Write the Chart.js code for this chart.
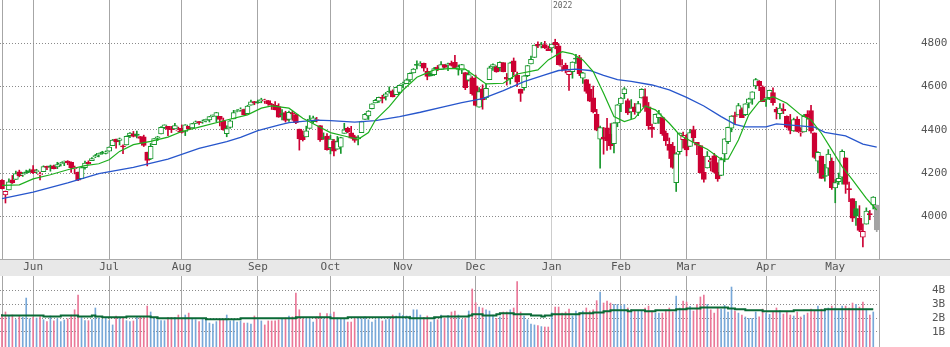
<!DOCTYPE html>
<html>
<head>
<meta charset="utf-8">
<script src="https://cdn.jsdelivr.net/npm/chart.js@4.4.1/dist/chart.umd.min.js"></script>
<style>
  html, body { margin: 0; padding: 0; background: #fff; }
  #wrap { position: relative; width: 950px; height: 347px; overflow: hidden; }
  #band { position: absolute; left: 0; top: 259px; width: 950px; height: 17px; background: #e8e8e8; border-top: 1px solid #aaa; box-sizing: border-box; }
  canvas { position: absolute; left: 0; }
  #price { top: 0; }
  #volume { top: 276px; }
  #year { position: absolute; left: 553px; top: 2px; font: 8px/8px "DejaVu Sans Mono", monospace; color: #666; }
</style>
</head>
<body>
<div id="wrap">
  <div id="band"></div>
  <canvas id="price" width="950" height="276"></canvas>
  <canvas id="volume" width="950" height="71"></canvas>
  <div id="year"></div>
</div>
<script>
// daily bars, 2021-05-18 .. 2022-05-18
const dates = [
  "2021-05-18","2021-05-19","2021-05-20","2021-05-21","2021-05-24","2021-05-25","2021-05-26","2021-05-27","2021-05-28",
  "2021-06-01","2021-06-02","2021-06-03","2021-06-04","2021-06-07","2021-06-08","2021-06-09","2021-06-10","2021-06-11","2021-06-14","2021-06-15","2021-06-16","2021-06-17","2021-06-18","2021-06-21","2021-06-22","2021-06-23","2021-06-24","2021-06-25","2021-06-28","2021-06-29","2021-06-30",
  "2021-07-01","2021-07-02","2021-07-06","2021-07-07","2021-07-08","2021-07-09","2021-07-12","2021-07-13","2021-07-14","2021-07-15","2021-07-16","2021-07-19","2021-07-20","2021-07-21","2021-07-22","2021-07-23","2021-07-26","2021-07-27","2021-07-28","2021-07-29","2021-07-30",
  "2021-08-02","2021-08-03","2021-08-04","2021-08-05","2021-08-06","2021-08-09","2021-08-10","2021-08-11","2021-08-12","2021-08-13","2021-08-16","2021-08-17","2021-08-18","2021-08-19","2021-08-20","2021-08-23","2021-08-24","2021-08-25","2021-08-26","2021-08-27","2021-08-30","2021-08-31",
  "2021-09-01","2021-09-02","2021-09-03","2021-09-07","2021-09-08","2021-09-09","2021-09-10","2021-09-13","2021-09-14","2021-09-15","2021-09-16","2021-09-17","2021-09-20","2021-09-21","2021-09-22","2021-09-23","2021-09-24","2021-09-27","2021-09-28","2021-09-29","2021-09-30",
  "2021-10-01","2021-10-04","2021-10-05","2021-10-06","2021-10-07","2021-10-08","2021-10-11","2021-10-12","2021-10-13","2021-10-14","2021-10-15","2021-10-18","2021-10-19","2021-10-20","2021-10-21","2021-10-22","2021-10-25","2021-10-26","2021-10-27","2021-10-28","2021-10-29",
  "2021-11-01","2021-11-02","2021-11-03","2021-11-04","2021-11-05","2021-11-08","2021-11-09","2021-11-10","2021-11-11","2021-11-12","2021-11-15","2021-11-16","2021-11-17","2021-11-18","2021-11-19","2021-11-22","2021-11-23","2021-11-24","2021-11-26","2021-11-29","2021-11-30",
  "2021-12-01","2021-12-02","2021-12-03","2021-12-06","2021-12-07","2021-12-08","2021-12-09","2021-12-10","2021-12-13","2021-12-14","2021-12-15","2021-12-16","2021-12-17","2021-12-20","2021-12-21","2021-12-22","2021-12-23","2021-12-27","2021-12-28","2021-12-29","2021-12-30","2021-12-31",
  "2022-01-03","2022-01-04","2022-01-05","2022-01-06","2022-01-07","2022-01-10","2022-01-11","2022-01-12","2022-01-13","2022-01-14","2022-01-18","2022-01-19","2022-01-20","2022-01-21","2022-01-24","2022-01-25","2022-01-26","2022-01-27","2022-01-28","2022-01-31",
  "2022-02-01","2022-02-02","2022-02-03","2022-02-04","2022-02-07","2022-02-08","2022-02-09","2022-02-10","2022-02-11","2022-02-14","2022-02-15","2022-02-16","2022-02-17","2022-02-18","2022-02-22","2022-02-23","2022-02-24","2022-02-25","2022-02-28",
  "2022-03-01","2022-03-02","2022-03-03","2022-03-04","2022-03-07","2022-03-08","2022-03-09","2022-03-10","2022-03-11","2022-03-14","2022-03-15","2022-03-16","2022-03-17","2022-03-18","2022-03-21","2022-03-22","2022-03-23","2022-03-24","2022-03-25","2022-03-28","2022-03-29","2022-03-30","2022-03-31",
  "2022-04-01","2022-04-04","2022-04-05","2022-04-06","2022-04-07","2022-04-08","2022-04-11","2022-04-12","2022-04-13","2022-04-14","2022-04-18","2022-04-19","2022-04-20","2022-04-21","2022-04-22","2022-04-25","2022-04-26","2022-04-27","2022-04-28","2022-04-29",
  "2022-05-02","2022-05-03","2022-05-04","2022-05-05","2022-05-06","2022-05-09","2022-05-10","2022-05-11","2022-05-12","2022-05-13","2022-05-16","2022-05-17","2022-05-18"
];

const opens = [
  4165.9,4098.5,4122.0,4168.6,4170.2,4205.9,4191.6,4201.9,4210.8,
  4216.5,4206.8,4191.4,4206.1,4229.3,4233.8,4233.0,4228.6,4242.9,4248.3,4255.3,4248.9,4220.4,4204.8,4173.4,4224.6,4249.3,4257.0,4274.5,4284.9,4293.2,4290.7,
  4300.7,4326.6,4356.5,4351.0,4321.1,4329.4,4372.4,4381.1,4380.1,4369.0,4367.4,4296.4,4265.1,4331.1,4361.3,4381.2,4409.6,4416.4,4403.0,4403.6,4395.1,
  4406.9,4392.7,4416.0,4408.9,4429.1,4437.8,4435.8,4442.2,4446.1,4464.8,4461.7,4462.1,4440.9,4382.4,4410.6,4450.3,4484.4,4490.5,4493.8,4474.1,4513.8,4529.8,
  4528.8,4534.5,4532.4,4535.4,4518.1,4513.0,4506.9,4474.8,4479.3,4447.5,4477.1,4469.7,4403.0,4374.5,4367.4,4406.8,4438.0,4442.1,4419.5,4362.4,4370.7,
  4317.2,4348.8,4309.9,4319.6,4383.7,4406.5,4385.4,4368.3,4358.0,4386.8,4447.7,4463.7,4497.3,4524.4,4532.2,4546.1,4553.7,4578.7,4580.2,4562.8,4572.9,
  4610.6,4613.3,4630.7,4662.9,4699.3,4701.5,4707.3,4670.3,4659.4,4655.2,4689.3,4679.4,4701.5,4700.7,4708.4,4712.0,4678.5,4675.8,4664.6,4628.8,4640.3,
  4602.8,4504.7,4589.5,4548.4,4632.0,4690.9,4691.0,4687.6,4710.3,4643.0,4636.5,4719.1,4652.5,4587.9,4595.0,4650.4,4704.0,4734.0,4795.5,4788.6,4794.2,4775.2,
  4778.1,4804.5,4788.0,4693.4,4697.7,4655.3,4669.1,4728.6,4733.6,4638.0,4632.2,4588.0,4547.4,4471.4,4356.3,4366.6,4408.4,4380.6,4336.2,4431.8,
  4519.6,4566.4,4535.4,4482.8,4505.8,4480.0,4547.0,4553.2,4506.3,4412.6,4429.3,4455.8,4456.1,4384.6,4332.7,4324.9,4155.8,4298.4,4354.2,
  4363.1,4322.6,4401.3,4342.1,4327.0,4202.7,4223.1,4252.6,4279.5,4202.8,4188.8,4288.1,4345.1,4407.3,4462.4,4469.1,4493.1,4470.0,4522.9,4541.1,4602.9,4624.2,4599.0,
  4540.3,4548.0,4572.5,4494.2,4474.7,4494.2,4462.6,4437.6,4394.3,4449.1,4385.6,4390.6,4472.3,4489.2,4385.8,4255.3,4278.1,4186.5,4222.6,4253.8,
  4130.6,4159.8,4181.2,4270.4,4128.2,4081.3,4035.2,3990.1,3904.0,3963.9,4013.0,4052.0,4052.0
];

const highs = [
  4169.2,4116.9,4172.8,4188.7,4209.5,4213.4,4202.6,4213.4,4218.4,
  4234.1,4217.4,4204.4,4233.5,4232.3,4236.7,4237.1,4249.7,4248.4,4255.6,4257.2,4251.9,4232.3,4204.8,4226.2,4255.8,4256.6,4271.3,4286.1,4292.1,4300.5,4302.4,
  4320.7,4355.4,4356.5,4361.9,4330.9,4371.6,4386.7,4392.4,4393.7,4369.0,4375.1,4296.4,4336.8,4359.7,4369.9,4415.2,4422.7,4416.4,4415.5,4430.0,4412.3,
  4422.2,4423.8,4416.2,4429.8,4440.8,4439.4,4445.2,4449.4,4461.8,4468.4,4480.3,4462.1,4454.3,4418.6,4444.4,4489.9,4492.8,4501.7,4495.9,4513.3,4537.4,4531.4,
  4537.1,4545.9,4541.5,4535.4,4521.8,4529.9,4520.5,4493.0,4485.7,4486.9,4485.9,4471.5,4403.0,4394.9,4416.8,4465.4,4463.1,4457.3,4419.5,4385.6,4382.6,
  4375.2,4355.5,4369.2,4365.6,4430.0,4412.0,4415.9,4374.9,4372.9,4439.7,4475.8,4488.8,4520.4,4540.9,4551.4,4559.7,4572.6,4598.5,4584.6,4597.6,4608.1,
  4620.3,4635.2,4663.5,4683.0,4718.5,4714.9,4708.5,4684.9,4664.6,4688.5,4697.4,4715.0,4701.5,4708.8,4717.8,4743.8,4699.4,4702.9,4664.6,4673.0,4646.0,
  4652.9,4595.5,4608.0,4612.6,4694.0,4705.1,4695.3,4713.6,4710.3,4660.5,4712.6,4732.0,4666.7,4587.9,4651.1,4697.7,4740.7,4791.5,4807.0,4804.1,4808.9,4786.8,
  4796.6,4818.6,4797.7,4725.0,4708.0,4673.0,4714.1,4748.8,4744.1,4665.1,4632.2,4611.6,4602.1,4494.5,4417.4,4411.0,4453.2,4428.7,4432.7,4516.9,
  4550.5,4595.3,4542.9,4539.7,4521.9,4531.3,4590.0,4588.9,4526.3,4426.2,4472.8,4489.6,4456.1,4394.6,4362.1,4341.5,4294.7,4385.3,4388.8,
  4378.5,4401.5,4416.8,4342.1,4327.0,4276.9,4299.4,4268.3,4291.0,4247.6,4271.1,4358.9,4412.7,4465.4,4481.8,4522.0,4501.1,4520.6,4546.0,4575.7,4637.3,4627.8,4603.1,
  4548.7,4583.5,4593.5,4503.9,4521.2,4520.4,4464.4,4471.0,4453.9,4460.5,4410.3,4471.0,4488.3,4512.9,4385.8,4299.0,4278.1,4240.7,4308.5,4269.7,
  4169.8,4200.1,4307.7,4270.4,4157.7,4081.3,4068.8,4049.1,3964.8,4038.9,4027.0,4090.7,4052.0
];

const lows = [
  4126.0,4061.4,4122.0,4151.7,4170.2,4182.5,4184.1,4197.8,4203.6,
  4197.6,4198.3,4167.9,4206.1,4215.7,4208.4,4218.7,4220.3,4232.3,4234.1,4238.4,4202.5,4196.1,4164.4,4173.4,4217.3,4241.4,4257.0,4271.2,4274.7,4287.0,4288.0,
  4300.7,4326.6,4314.4,4329.8,4289.4,4329.4,4364.0,4366.9,4362.4,4340.7,4322.5,4233.1,4262.1,4331.1,4350.1,4381.2,4405.5,4372.5,4387.0,4403.6,4389.7,
  4384.8,4373.0,4400.2,4408.9,4429.1,4424.7,4430.0,4436.4,4436.0,4460.8,4437.7,4417.8,4397.6,4367.7,4406.8,4450.3,4482.3,4485.7,4469.0,4474.1,4513.8,4515.8,
  4522.0,4524.7,4521.9,4513.0,4494.0,4492.1,4457.7,4445.7,4435.5,4438.4,4443.8,4427.8,4305.9,4348.0,4367.4,4406.8,4430.3,4436.2,4346.3,4355.1,4306.2,
  4288.5,4278.9,4309.9,4290.5,4383.7,4386.2,4360.6,4342.1,4329.9,4386.8,4447.7,4447.5,4496.4,4524.4,4526.9,4524.0,4537.4,4569.2,4551.7,4562.8,4567.6,
  4595.1,4613.3,4621.2,4662.6,4681.3,4694.4,4670.9,4630.9,4648.3,4650.8,4672.9,4679.4,4684.4,4672.8,4694.2,4682.2,4652.7,4659.9,4585.4,4625.3,4560.0,
  4510.3,4504.7,4495.1,4540.5,4632.0,4674.5,4666.0,4670.6,4667.6,4606.5,4611.2,4651.9,4600.2,4531.1,4583.2,4645.5,4704.0,4734.0,4780.0,4778.1,4775.3,4765.8,
  4758.2,4774.3,4699.4,4671.3,4662.7,4582.2,4638.3,4706.7,4650.3,4614.8,4568.7,4530.2,4478.0,4395.3,4222.6,4287.1,4304.8,4309.5,4292.5,4414.0,
  4483.5,4544.3,4470.4,4451.5,4471.5,4465.4,4547.0,4484.3,4401.4,4364.8,4429.3,4429.7,4373.8,4327.2,4267.1,4221.5,4114.7,4286.8,4315.1,
  4279.5,4322.6,4345.6,4285.0,4199.9,4157.9,4223.1,4209.8,4200.5,4161.7,4187.9,4252.0,4335.7,4390.6,4424.3,4469.1,4455.8,4465.2,4501.1,4517.7,4589.7,4581.3,4530.4,
  4507.6,4539.2,4514.2,4450.0,4450.3,4474.6,4408.4,4381.3,4392.7,4390.8,4370.3,4390.6,4448.8,4384.5,4267.6,4200.8,4175.0,4162.9,4188.6,4124.3,
  4062.5,4147.1,4148.9,4106.0,4067.9,3975.5,3958.2,3928.8,3858.9,3963.9,3984.0,4033.9,3929.0
];

const closes = [
  4127.8,4115.7,4159.1,4155.9,4197.1,4188.1,4196.0,4200.9,4204.1,
  4202.0,4208.1,4192.9,4229.9,4226.5,4227.3,4219.6,4239.2,4247.4,4255.2,4246.6,4223.7,4221.9,4166.5,4224.8,4246.4,4241.8,4266.5,4280.7,4290.6,4291.8,4297.5,
  4319.9,4352.3,4343.5,4358.1,4320.8,4369.6,4384.6,4369.2,4374.3,4360.0,4327.2,4258.5,4323.1,4358.7,4367.5,4411.8,4422.3,4401.5,4400.6,4419.2,4395.3,
  4387.2,4423.2,4402.7,4429.1,4436.5,4432.4,4436.8,4447.7,4460.8,4468.0,4479.7,4448.1,4400.3,4405.8,4441.7,4479.5,4486.2,4496.2,4470.0,4509.4,4528.8,4522.7,
  4524.1,4537.0,4535.4,4520.0,4514.1,4493.3,4458.6,4468.7,4443.1,4480.7,4473.8,4433.0,4357.7,4354.2,4395.6,4449.0,4455.5,4443.1,4352.6,4359.5,4307.5,
  4357.0,4300.5,4345.7,4363.6,4399.8,4391.3,4361.2,4350.7,4363.8,4438.3,4471.4,4486.5,4519.6,4536.2,4549.8,4544.9,4566.5,4574.8,4551.7,4596.4,4605.4,
  4613.7,4630.7,4660.6,4680.1,4697.5,4701.7,4685.3,4646.7,4649.3,4682.9,4682.8,4700.9,4688.7,4704.5,4698.0,4682.9,4690.7,4701.5,4594.6,4655.3,4567.0,
  4513.0,4577.1,4538.4,4591.7,4686.8,4701.2,4667.5,4712.0,4669.0,4634.1,4709.9,4668.7,4620.6,4568.0,4649.2,4696.6,4725.8,4791.2,4786.4,4793.1,4778.7,4766.2,
  4796.6,4793.5,4700.6,4696.1,4677.0,4670.3,4713.1,4726.4,4659.0,4662.9,4577.1,4532.8,4482.7,4397.9,4410.1,4356.5,4349.9,4326.5,4431.9,4515.6,
  4546.5,4589.4,4477.4,4500.5,4483.9,4521.5,4587.2,4504.1,4418.6,4401.7,4471.1,4475.0,4380.3,4348.9,4304.8,4225.5,4288.7,4384.7,4373.9,
  4306.3,4386.5,4363.5,4328.9,4201.1,4170.7,4277.9,4259.5,4204.3,4173.1,4262.5,4357.9,4411.7,4463.1,4461.2,4511.6,4456.2,4520.2,4543.1,4575.5,4631.6,4602.5,4530.4,
  4545.9,4582.6,4525.1,4481.2,4500.2,4488.3,4412.5,4397.5,4446.6,4392.6,4391.7,4462.2,4459.5,4393.7,4271.8,4296.1,4175.2,4184.0,4287.5,4131.9,
  4155.4,4175.5,4300.2,4146.9,4123.3,3991.2,4001.1,3935.2,3930.1,4023.9,4008.0,4088.9,3937.0
];

// volume in billions (last bar still trading: no volume yet)
const volumes = [
  2.27,2.45,2.16,2.23,1.89,2.16,2.06,3.46,1.96,
  2.08,2.01,2.11,1.89,1.75,2.16,1.80,1.96,1.75,1.87,1.96,2.23,2.61,3.68,2.04,1.82,1.82,1.89,2.74,2.01,1.92,2.01,
  1.82,1.51,2.16,2.01,2.06,1.82,1.75,1.80,2.06,2.11,2.06,2.88,2.45,2.06,1.89,1.82,1.82,2.06,2.06,2.06,2.23,
  2.00,2.23,2.37,1.96,1.89,1.75,1.96,1.89,1.65,1.58,1.75,1.94,1.94,2.23,1.80,1.84,1.72,1.80,1.65,1.65,1.58,2.16,
  1.90,1.80,1.51,1.80,1.80,1.80,1.87,1.96,2.01,2.16,2.10,3.83,2.61,1.96,1.96,1.96,1.72,2.09,2.37,1.96,2.33,
  2.30,2.45,2.01,1.96,1.96,1.72,1.72,1.96,2.01,1.96,2.09,1.89,1.72,1.89,2.01,1.80,1.89,1.96,2.23,2.16,2.37,
  2.20,2.16,2.16,2.61,2.61,2.23,2.06,2.16,1.72,1.89,1.89,2.23,2.00,2.20,2.45,2.52,2.23,1.89,1.99,2.52,4.12,
  3.12,2.81,2.74,2.61,2.52,2.23,1.99,2.09,2.45,2.45,2.61,2.74,4.65,2.45,2.16,1.89,1.58,1.51,1.46,1.39,1.36,1.36,
  2.40,2.81,2.81,2.37,2.45,2.66,2.16,2.52,2.37,2.52,2.74,2.52,2.61,3.27,3.90,3.10,3.24,3.10,3.00,3.00,
  2.90,3.00,2.74,2.61,2.52,2.52,2.52,2.74,2.88,2.52,2.37,2.37,2.37,2.59,2.74,2.45,3.60,2.74,3.24,
  3.17,2.86,2.52,3.00,3.54,3.68,3.00,2.61,2.37,2.74,2.66,2.93,2.45,4.26,2.52,2.37,2.23,2.09,1.99,1.99,2.45,2.09,2.66,
  2.37,2.28,2.45,2.74,2.55,2.30,2.45,2.23,2.16,2.45,2.09,2.23,2.37,2.66,2.55,2.88,2.66,2.66,2.74,2.88,
  2.74,2.55,2.88,2.88,2.74,3.10,3.00,2.81,3.17,2.66,2.23,2.45,null
];

const prevClose = 4163.3;   // close of the day before the first bar
const lastIsLive = true;    // final bar is the session in progress

// moving averages (bar index, value)
const maShortX = [0,5,9,14,19,24,28,31,34,38,43,48,52,57,65,71,75,78,83,87,91,95,99,103,106,108,112,116,120,125,130,134,137,140,145,149,155,158,162,165,168,171,174,177,180,183,186,189,193,196,200,204,208,210,213,216,219,223,227,231,234,237,240,243,246,250,253];
const maShortY = [4143,4145,4173,4192,4215,4234,4243,4261,4300,4331,4346,4366,4392,4412,4445,4469,4500,4510,4500,4453,4420,4387,4371,4356,4387,4445,4507,4584,4643,4677,4684,4680,4646,4612,4615,4658,4677,4723,4761,4751,4723,4669,4569,4461,4438,4453,4510,4492,4430,4376,4341,4310,4264,4264,4353,4469,4530,4553,4523,4469,4445,4384,4307,4230,4168,4083,4029];

const maLongX = [0,9,19,28,38,48,57,65,69,74,80,83,91,95,102,108,115,121,128,133,139,145,151,157,161,166,170,174,178,182,188,193,198,203,208,212,215,221,224,230,235,238,244,249,253];
const maLongY = [4082,4112,4154,4197,4226,4264,4314,4345,4365,4396,4422,4433,4445,4442,4435,4442,4461,4481,4507,4526,4544,4581,4623,4654,4674,4680,4674,4652,4632,4624,4607,4584,4550,4510,4461,4425,4413,4413,4427,4419,4412,4388,4372,4334,4320];

const volAvgX = [0,12,17,22,26,27,29,36,43,45,59,69,85,95,100,118,125,127,135,136,139,143,144,148,153,156,157,159,167,171,174,176,181,182,186,189,195,198,202,210,212,215,220,229,238,246,252];
const volAvgY = [2.28,2.20,2.13,2.20,2.13,2.20,2.13,2.06,2.13,2.06,1.99,1.92,1.99,2.06,1.99,2.06,1.99,2.06,2.13,2.20,2.28,2.20,2.28,2.35,2.28,2.20,2.13,2.20,2.28,2.35,2.42,2.50,2.57,2.50,2.57,2.50,2.57,2.64,2.71,2.78,2.71,2.64,2.57,2.50,2.57,2.64,2.64];

const priceTicks = [4000, 4200, 4400, 4600, 4800];
const volumeTicks = [1, 2, 3, 4];
const monthLabels = ["Jan","Feb","Mar","Apr","May","Jun","Jul","Aug","Sep","Oct","Nov","Dec"];

const UP = "#17972c";
const DOWN = "#cc0033";
const LIVE = "#a3a3a3";
const VOL_UP = "#78a8d8";
const VOL_DOWN = "#ea7898";
const GRID = "#a6a6a6";
const FONT = { family: "DejaVu Sans Mono", size: 11 };

const last = closes.length - 1;
const monthStarts = [];
dates.forEach((d, i) => {
    if (i > 0 && d.slice(5, 7) !== dates[i - 1].slice(5, 7)) monthStarts.push(i);
});
const yearStart = monthStarts.find(i => dates[i].slice(0, 4) !== dates[0].slice(0, 4));
const gridIdx = [0].concat(monthStarts);

// year marker next to the first gridline of the new year
document.getElementById("year").textContent = dates[yearStart].slice(0, 4);

function isUp(i) {
    const prev = i === 0 ? prevClose : closes[i - 1];
    return closes[i] >= prev;
}
function candleColor(i) {
    if (i === undefined) return UP;
    if (lastIsLive && i === last) return LIVE;
    return isUp(i) ? UP : DOWN;
}
function isFilled(i) {
    return (lastIsLive && i === last) || closes[i] < opens[i];
}

// axes keep their own size, no extra label padding pushed into the layout
function noPad(s) {
    s.paddingTop = 0;
    s.paddingBottom = 0;
    s.paddingLeft = 0;
    s.paddingRight = 0;
}

const X_MIN = -0.58, X_MAX = 253.66;

function monthAxis(withLabels) {
    return {
        type: "linear",
        min: X_MIN,
        max: X_MAX,
        bounds: "data",
        offset: false,
        afterBuildTicks: s => { s.ticks = gridIdx.map(v => ({ value: v })); },
        afterFit: s => { s.height = withLabels ? 17 : 0; noPad(s); },
        grid: {
            color: c => (c.tick && c.tick.value === yearStart) ? "#cdcdcd" : GRID,
            lineWidth: 1,
            drawTicks: false,
            offset: false
        },
        border: { display: false },
        ticks: {
            display: withLabels,
            autoSkip: false,
            maxRotation: 0,
            padding: 2,
            color: "#555",
            font: FONT,
            callback: v => v === 0 ? "" : monthLabels[Number(dates[v].slice(5, 7)) - 1]
        }
    };
}

function valueAxis(min, max, ticks, pad, fmt) {
    return {
        position: "right",
        min: min,
        max: max,
        bounds: "data",
        afterBuildTicks: s => { s.ticks = ticks.map(v => ({ value: v })); },
        afterFit: s => { s.width = 71; noPad(s); },
        grid: { color: "#8a8a8a", lineWidth: 1, drawTicks: false },
        border: { display: true, color: GRID, dash: [1, 2] },
        ticks: { padding: pad, color: "#555", font: FONT, callback: fmt }
    };
}

const commonOptions = {
    animation: false,
    responsive: false,
    devicePixelRatio: 1,
    events: [],
    layout: { padding: 0, autoPadding: false },
    plugins: { legend: { display: false }, tooltip: { enabled: false } }
};

new Chart(document.getElementById("price"), {
    type: "bar",
    data: {
        datasets: [
            {
                type: "line",
                data: maShortX.map((x, k) => ({ x: x, y: maShortY[k] })),
                borderColor: "#1daf1d",
                borderWidth: 1.2,
                pointRadius: 0,
                tension: 0,
                order: 0
            },
            {
                type: "line",
                data: maLongX.map((x, k) => ({ x: x, y: maLongY[k] })),
                borderColor: "#2756cc",
                borderWidth: 1.3,
                pointRadius: 0,
                tension: 0,
                order: 0
            },
            {
                data: dates.map((d, i) => ({ x: i, y: [opens[i], closes[i]] })),
                barThickness: 5,
                minBarLength: 1,
                grouped: false,
                borderSkipped: false,
                borderWidth: 1,
                borderColor: c => candleColor(c.dataIndex),
                backgroundColor: c => (c.dataIndex !== undefined && isFilled(c.dataIndex)) ? candleColor(c.dataIndex) : "#ffffff",
                order: 1
            },
            {
                data: dates.map((d, i) => ({ x: i, y: [lows[i], highs[i]] })),
                barThickness: 1,
                grouped: false,
                borderWidth: 0,
                backgroundColor: c => candleColor(c.dataIndex),
                order: 2
            }
        ]
    },
    options: {
        ...commonOptions,
        scales: {
            x: monthAxis(true),
            y: valueAxis(3802.5, 5000, priceTicks, 42, v => String(v))
        }
    }
});

new Chart(document.getElementById("volume"), {
    type: "bar",
    data: {
        datasets: [
            {
                type: "line",
                data: volAvgX.map((x, k) => ({ x: x, y: volAvgY[k] })),
                stepped: "after",
                borderColor: "#0a6a36",
                borderWidth: 2,
                pointRadius: 0,
                order: 0
            },
            {
                data: volumes.map((v, i) => ({ x: i, y: v })),
                barThickness: 1,
                grouped: false,
                base: -0.09,
                borderWidth: 0,
                backgroundColor: c => (c.dataIndex === undefined || isUp(c.dataIndex)) ? VOL_UP : VOL_DOWN,
                order: 1
            }
        ]
    },
    options: {
        ...commonOptions,
        scales: {
            x: monthAxis(false),
            y: valueAxis(-0.09, 5.06, volumeTicks, 53, v => v + "B")
        }
    }
});
</script>
</body>
</html>
